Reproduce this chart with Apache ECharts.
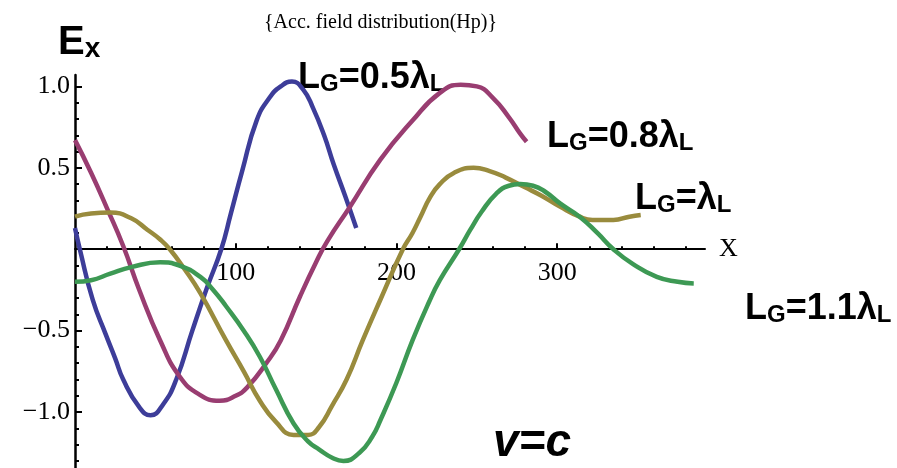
<!DOCTYPE html>
<html>
<head>
<meta charset="utf-8">
<script src="https://cdn.jsdelivr.net/npm/echarts@6/dist/echarts.min.js"></script>
<style>
	html, body { margin: 0; padding: 0; background: #fff; }
	#main { width: 897px; height: 468px; }
</style>
</head>
<body>
<div id="main"></div>
<script>
// field curves, [x, Ex]
var lg05 = [[0, 0.13], [3, 0], [11, -0.31], [19, -0.52], [25, -0.67], [30, -0.8], [40, -0.97], [47, -1.02], [55, -0.95],
	[63, -0.8], [73, -0.5], [82, -0.24], [91, 0], [97, 0.22], [104, 0.48], [113, 0.79], [121, 0.93], [128, 1.0],
	[135, 1.03], [142, 0.98], [148, 0.87], [155, 0.7], [161, 0.52], [168, 0.33], [175, 0.13]];
var lg08 = [[0, 0.67], [10, 0.47], [20, 0.25], [30, 0.02], [40, -0.25], [53, -0.56], [65, -0.78], [77, -0.89],
	[90, -0.93], [100, -0.9], [107, -0.85], [119, -0.7], [128, -0.56], [140, -0.29], [150, -0.08], [157, 0.05],
	[171, 0.26], [190, 0.55], [210, 0.79], [227, 0.96], [240, 1.01], [250, 1.0], [260, 0.93], [270, 0.81],
	[277, 0.71], [281, 0.66]];
var lg10 = [[0, 0.2], [10, 0.22], [22, 0.225], [35, 0.19], [45, 0.12], [53, 0.06], [59, 0], [68, -0.12], [78, -0.27],
	[94, -0.56], [105, -0.75], [115, -0.93], [125, -1.06], [136, -1.14], [145, -1.14], [152, -1.09], [160, -0.96],
	[169, -0.8], [179, -0.56], [190, -0.31], [204, 0], [210, 0.1], [215, 0.2], [221, 0.32], [227, 0.4], [236, 0.47],
	[248, 0.5], [258, 0.48], [268, 0.44], [280, 0.38], [290, 0.33], [302, 0.26], [314, 0.2], [322, 0.18],
	[335, 0.18], [345, 0.2], [352, 0.21]];
var lg11 = [[0, -0.2], [10, -0.19], [22, -0.15], [35, -0.11], [53, -0.08], [65, -0.1], [78, -0.17], [86, -0.25],
	[94, -0.35], [105, -0.5], [115, -0.66], [125, -0.86], [136, -1.07], [145, -1.18], [152, -1.23], [160, -1.28],
	[167, -1.3], [177, -1.25], [185, -1.15], [190, -1.05], [200, -0.82], [210, -0.56], [220, -0.33], [227, -0.19],
	[239, 0], [246, 0.12], [253, 0.23], [262, 0.34], [270, 0.39], [277, 0.4], [285, 0.39], [293, 0.35], [302, 0.28],
	[314, 0.2], [325, 0.1], [335, 0], [347, -0.09], [362, -0.17], [375, -0.2], [385, -0.21]];

var xMajor = [100, 200, 300];
var xMinor = [20, 40, 60, 80, 120, 140, 160, 180, 220, 240, 260, 280, 320, 340, 360, 380];
var yMajor = [-1.0, -0.5, 0.5, 1.0];
var yMinor = [-1.4, -1.3, -1.2, -1.1, -0.9, -0.8, -0.7, -0.6, -0.4, -0.3, -0.2, -0.1,
	0.1, 0.2, 0.3, 0.4, 0.6, 0.7, 0.8, 0.9];

var serif = "'Liberation Serif', 'Times New Roman', serif";
var sans = "'Liberation Sans', Arial, sans-serif";

var yMin = -1.5, yMax = 1.07;
var gridTop = 75, gridH = 418.5;
// the x axis sits at Ex = 0, lift it up from the grid bottom
var xShift = -gridH * (0 - yMin) / (yMax - yMin);

var chart = echarts.init(document.getElementById('main'));

function curve(name, data, color) {
	return {
		name: name,
		type: 'line',
		data: data,
		smooth: 0.5,
		symbol: 'none',
		xAxisIndex: 0,
		yAxisIndex: 0,
		lineStyle: { color: color, width: 4.5 }
	};
}

// big bold label with small subscripts, as in the picture
function tag(parts, x, y, size, subSize, subLine) {
	var text = parts.map(function(p) { return '{' + p[0] + '|' + p[1] + '}'; }).join('');
	return {
		type: 'text',
		left: x,
		top: y,
		style: {
			text: text,
			rich: {
				m: { fontFamily: sans, fontWeight: 'bold', fontSize: size, lineHeight: size, verticalAlign: 'bottom', fill: '#000' },
				s: { fontFamily: sans, fontWeight: 'bold', fontSize: subSize, lineHeight: subLine, verticalAlign: 'bottom', fill: '#000' }
			}
		}
	};
}

var option = {
	animation: false,
	backgroundColor: '#fff',
	title: {
		text: '{Acc. field distribution(Hp)}',
		left: 259,
		top: 8,
		textStyle: { fontFamily: serif, fontSize: 20, fontWeight: 'normal', color: '#000' }
	},
	grid: { left: 75, top: gridTop, width: 630, height: gridH, containLabel: false, outerBoundsMode: 'none' },
	xAxis: [{
		type: 'value',
		min: 0,
		max: 392,
		interval: 100,
		position: 'bottom',
		offset: xShift,
		name: 'X',
		nameLocation: 'end',
		nameGap: 14,
		nameTextStyle: { fontFamily: serif, fontSize: 26, color: '#000' },
		splitLine: { show: false },
		axisLine: { onZero: false, lineStyle: { color: '#000', width: 2 } },
		axisTick: { inside: true, length: 6, customValues: xMajor, lineStyle: { color: '#000', width: 2 } },
		axisLabel: { customValues: xMajor, margin: 11, fontFamily: serif, fontSize: 26, color: '#000' }
	}, {
		type: 'value',
		min: 0,
		max: 392,
		interval: 20,
		position: 'bottom',
		offset: xShift,
		splitLine: { show: false },
		axisLine: { show: false, onZero: false },
		axisTick: { inside: true, length: 3, customValues: xMinor, lineStyle: { color: '#000', width: 2 } },
		axisLabel: { show: false }
	}],
	yAxis: [{
		type: 'value',
		min: yMin,
		max: yMax,
		interval: 0.5,
		position: 'left',
		splitLine: { show: false },
		axisLine: { onZero: false, lineStyle: { color: '#000', width: 2.5 } },
		axisTick: { inside: true, length: 7, customValues: yMajor, lineStyle: { color: '#000', width: 2 } },
		axisLabel: {
			customValues: yMajor,
			margin: 5,
			fontFamily: serif,
			fontSize: 26,
			color: '#000',
			formatter: function(v) { return v.toFixed(1).replace('-', '\u2212'); }
		}
	}, {
		type: 'value',
		min: yMin,
		max: yMax,
		interval: 0.1,
		position: 'left',
		offset: 0,
		splitLine: { show: false },
		axisLine: { show: false, onZero: false },
		axisTick: { inside: true, length: 4, customValues: yMinor, lineStyle: { color: '#000', width: 2 } },
		axisLabel: { show: false }
	}],
	series: [
		curve('LG=0.5λL', lg05, '#3d3d99'),
		curve('LG=0.8λL', lg08, '#993d71'),
		curve('LG=λL', lg10, '#998b3d'),
		curve('LG=1.1λL', lg11, '#3d9954')
	],
	graphic: [
		tag([['m', 'E'], ['s', 'x']], 58, 23, 40, 28, 23),
		tag([['m', 'L'], ['s', 'G'], ['m', '=0.5λ'], ['s', 'L']], 298, 60, 36, 24, 22),
		tag([['m', 'L'], ['s', 'G'], ['m', '=0.8λ'], ['s', 'L']], 547, 119, 36, 24, 22),
		tag([['m', 'L'], ['s', 'G'], ['m', '=λ'], ['s', 'L']], 635, 181, 36, 24, 22),
		tag([['m', 'L'], ['s', 'G'], ['m', '=1.1λ'], ['s', 'L']], 745, 291, 36, 24, 22),
		{
			type: 'text',
			left: 493,
			top: 420,
			style: { text: 'v=c', fontFamily: sans, fontWeight: 'bold', fontStyle: 'italic', fontSize: 46, fill: '#000' }
		}
	]
};

chart.setOption(option);
</script>
</body>
</html>
